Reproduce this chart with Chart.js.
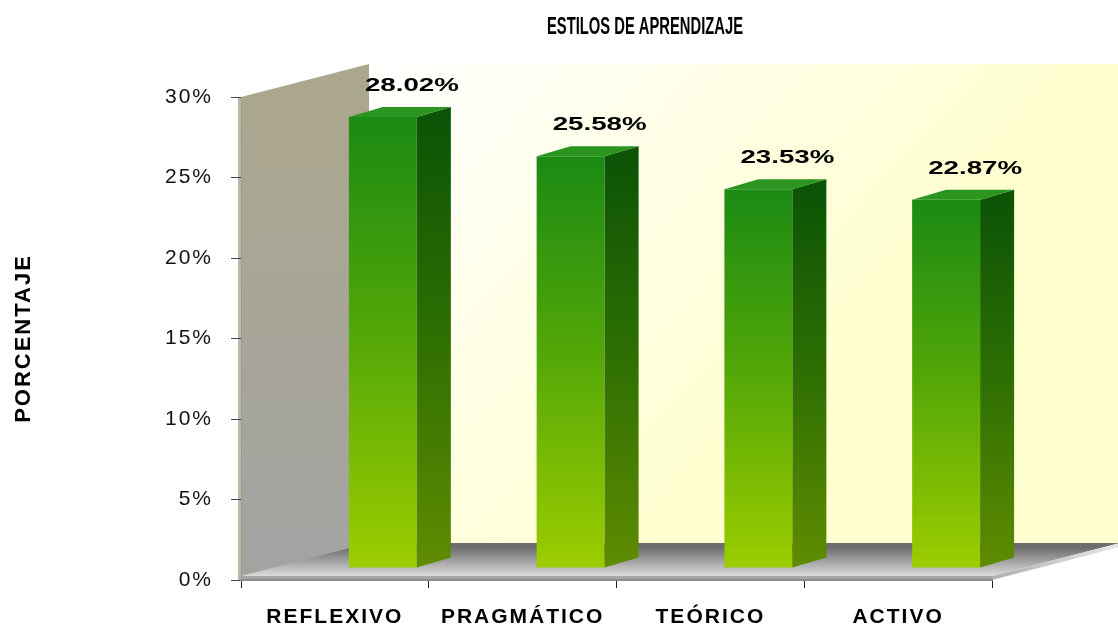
<!DOCTYPE html>
<html><head><meta charset="utf-8">
<script src="https://cdn.jsdelivr.net/npm/chart.js@4.4.1/dist/chart.umd.min.js"></script>
<style>html,body{margin:0;padding:0;background:#fff;overflow:hidden}#wrap{width:1118px;height:632px;position:relative}</style>
</head><body><div id="wrap"><canvas id="c" width="1118" height="632"></canvas></div>
<script>
const categories = ['REFLEXIVO', 'PRAGMÁTICO', 'TEÓRICO', 'ACTIVO'];
const percentages = [28.02, 25.58, 23.53, 22.87];
const yTickValues = [0, 5, 10, 15, 20, 25, 30];
const chartTitle = 'ESTILOS DE APRENDIZAJE';
const yAxisTitle = 'PORCENTAJE';

const FONT = '"Liberation Sans", Arial, Helvetica, sans-serif';
const DEPTH = {x: 128, y: -33};   // depth of walls/floor
const SHIFT = {x: 48, y: -12};    // bar position inside the depth
const SIDE = {x: 34, y: -10};     // bar thickness

function poly(ctx, pts, fill) {
  ctx.beginPath();
  ctx.moveTo(pts[0][0], pts[0][1]);
  for (let i = 1; i < pts.length; i++) ctx.lineTo(pts[i][0], pts[i][1]);
  ctx.closePath();
  ctx.fillStyle = fill;
  ctx.fill();
}

const threeD = {
  id: 'threeD',
  beforeDraw(chart) {
    const ctx = chart.ctx;
    const {left: L, right: R, top: T, bottom: B} = chart.chartArea;
    const W = chart.width;
    ctx.save();
    // back wall
    let g = ctx.createLinearGradient(L + DEPTH.x, T + DEPTH.y, 760, 430);
    g.addColorStop(0, '#ffffff');
    g.addColorStop(1, '#ffffd0');
    poly(ctx, [[L + DEPTH.x, T + DEPTH.y], [W, T + DEPTH.y], [W, B + DEPTH.y], [L + DEPTH.x, B + DEPTH.y]], g);
    // left wall
    g = ctx.createLinearGradient(0, T, 0, B);
    g.addColorStop(0, '#aba78e');
    g.addColorStop(1, '#a3a3a3');
    poly(ctx, [[L, T], [L + DEPTH.x, T + DEPTH.y], [L + DEPTH.x, B + DEPTH.y], [L, B]], g);
    poly(ctx, [[L - 3, T + 1], [L, T], [L, B], [L - 3, B]], '#b9b7a6');
    // floor
    const th = 4;
    g = ctx.createLinearGradient(0, B + DEPTH.y, 0, B - th);
    g.addColorStop(0, '#6c6c6c');
    g.addColorStop(1, '#dcdcdc');
    poly(ctx, [[L, B - th], [R, B - th], [R + DEPTH.x, B + DEPTH.y - th], [L + DEPTH.x, B + DEPTH.y - th]], g);
    poly(ctx, [[L, B - th], [R, B - th], [R, B], [L, B]], '#a6a6a6');
    g = ctx.createLinearGradient(R, 0, R + DEPTH.x, 0);
    g.addColorStop(0, '#b0b0b0');
    g.addColorStop(1, '#e8e8e8');
    poly(ctx, [[R, B - th], [R + DEPTH.x, B + DEPTH.y - th], [R + DEPTH.x, B + DEPTH.y], [R, B]], g);
    ctx.restore();
    ctx.letterSpacing = '2px';
  },
  beforeDatasetsDraw(chart) {
    chart.ctx.save();
    chart.ctx.translate(SHIFT.x, SHIFT.y);
  },
  afterDatasetsDraw(chart) {
    const ctx = chart.ctx;
    ctx.restore();
    ctx.save();
    const meta = chart.getDatasetMeta(0);
    ctx.font = 'bold 19px ' + FONT;
    ctx.letterSpacing = '0px';
    const sx = 94 / ctx.measureText('28.02%').width;
    meta.data.forEach((bar, i) => {
      const p = bar.getProps(['x', 'y', 'base', 'width'], true);
      const xl = p.x - p.width / 2 + SHIFT.x, xr = p.x + p.width / 2 + SHIFT.x;
      const yt = p.y + SHIFT.y, yb = p.base + SHIFT.y;
      let g = ctx.createLinearGradient(0, yt, 0, yb);
      g.addColorStop(0, '#0c5406');
      g.addColorStop(0.5, '#2f7003');
      g.addColorStop(1, '#5f8c00');
      poly(ctx, [[xr, yt], [xr + SIDE.x, yt + SIDE.y], [xr + SIDE.x, yb + SIDE.y], [xr, yb]], g);
      poly(ctx, [[xl, yt], [xr, yt], [xr + SIDE.x, yt + SIDE.y], [xl + SIDE.x, yt + SIDE.y]], '#2b9520');
      // value label
      const txt = percentages[i].toFixed(2) + '%';
      const cx = p.x + SHIFT.x + 29, cy = yt - 31;
      ctx.save();
      ctx.translate(cx, cy);
      ctx.scale(sx, 1);
      ctx.fillStyle = '#000';
      ctx.textAlign = 'center';
      ctx.textBaseline = 'middle';
      ctx.fillText(txt, 0, 0);
      ctx.restore();
    });
    ctx.restore();
  },
  afterDraw(chart) {
    const ctx = chart.ctx;
    ctx.save();
    ctx.letterSpacing = '0px';
    ctx.font = 'bold 23px "Liberation Sans Narrow", ' + FONT;
    const w = ctx.measureText(chartTitle).width;
    ctx.translate(645, 28);
    ctx.scale(196 / w, 1);
    ctx.fillStyle = '#000';
    ctx.textAlign = 'center';
    ctx.textBaseline = 'middle';
    ctx.fillText(chartTitle, 0, 0);
    ctx.restore();
  }
};

function barGradient(c) {
  const chart = c.chart;
  if (!chart.chartArea || c.type !== 'data') return '#4fa50a';
  const ys = chart.scales.y;
  const top = ys.getPixelForValue(c.raw);
  const bot = ys.getPixelForValue(0);
  const g = chart.ctx.createLinearGradient(0, top, 0, bot);
  g.addColorStop(0, '#1b8a14');
  g.addColorStop(0.45, '#4fa508');
  g.addColorStop(1, '#9ccd00');
  return g;
}

new Chart(document.getElementById('c'), {
  type: 'bar',
  data: {
    labels: categories,
    datasets: [{
      data: percentages,
      backgroundColor: barGradient,
      borderWidth: 0,
      barPercentage: 0.362,
      categoryPercentage: 1,
      clip: false
    }]
  },
  options: {
    responsive: false,
    animation: false,
    devicePixelRatio: 1,
    layout: {padding: {top: 97, right: 126, left: 0, bottom: 0}},
    plugins: {legend: {display: false}, title: {display: false}, tooltip: {enabled: false}},
    scales: {
      x: {
        afterFit(s) { s.height = 52; },
        grid: {display: true, drawOnChartArea: false, drawTicks: true, tickLength: 8, tickColor: '#222', offset: true},
        border: {display: true, color: '#8c8c8c', width: 2},
        ticks: {color: '#000', padding: 17, font: {family: FONT, size: 21, weight: 'bold'}, maxRotation: 0}
      },
      y: {
        min: 0, max: 30,
        afterFit(s) { s.width = 241; },
        afterBuildTicks(s) { s.ticks = yTickValues.map(v => ({value: v})); },
        grid: {display: true, drawOnChartArea: false, drawTicks: true, tickLength: 10, tickColor: '#444'},
        border: {display: true, color: '#9a9a8a', width: 1},
        ticks: {color: '#111', padding: 18, font: {family: FONT, size: 21}, callback: v => v + '%'},
        title: {display: true, text: yAxisTitle, color: '#000', font: {family: FONT, size: 22, weight: 'bold'}, padding: {top: 11, bottom: 0}}
      }
    }
  },
  plugins: [threeD]
});
</script>
</body></html>
